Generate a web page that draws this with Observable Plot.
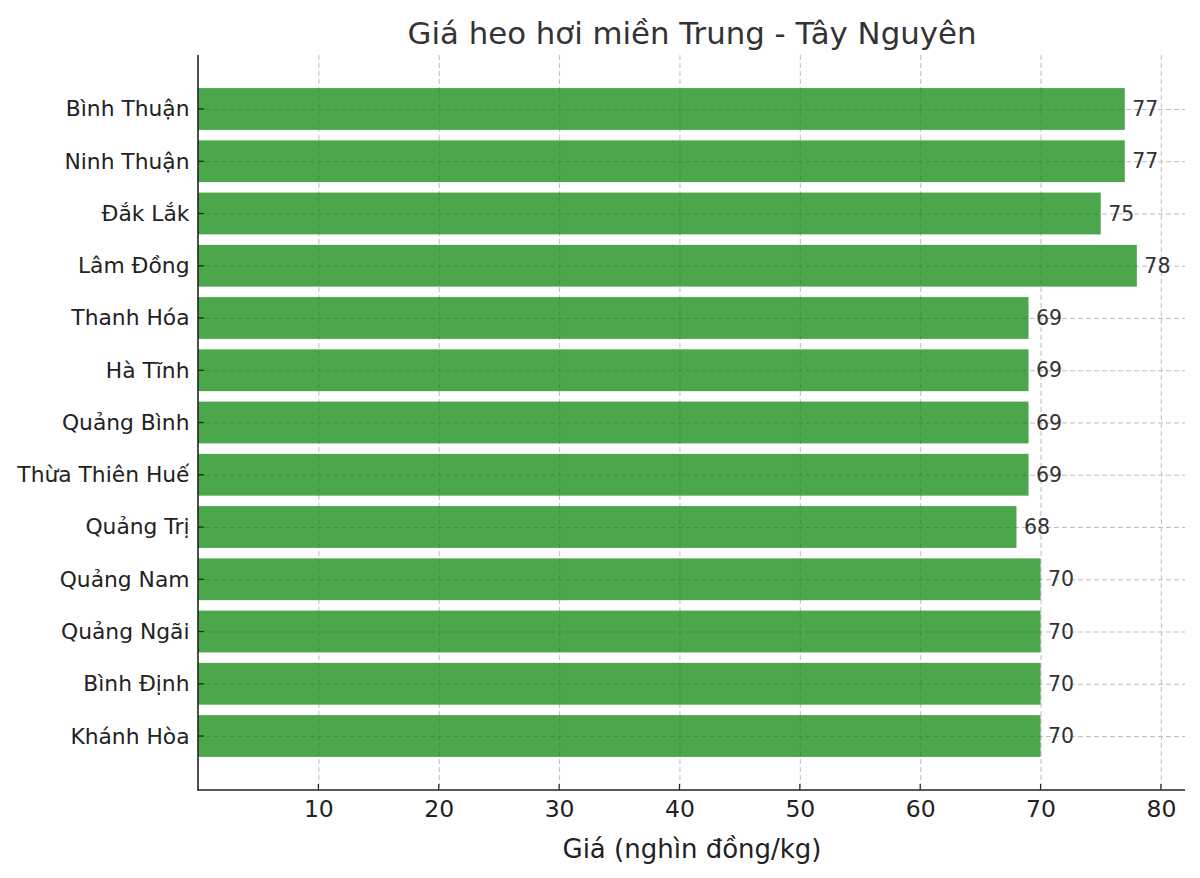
<!DOCTYPE html>
<html>
<head>
<meta charset="utf-8">
<script src="https://cdn.jsdelivr.net/npm/d3@7"></script>
<script src="https://cdn.jsdelivr.net/npm/@observablehq/plot@0.6"></script>
<style>
  html, body { margin: 0; padding: 0; background: #fff; }
  #chart svg { display: block; }
</style>
</head>
<body>
<div id="chart"></div>
<script>
const provinces = ["Bình Thuận", "Ninh Thuận", "Đắk Lắk", "Lâm Đồng", "Thanh Hóa", "Hà Tĩnh", "Quảng Bình", "Thừa Thiên Huế", "Quảng Trị", "Quảng Nam", "Quảng Ngãi", "Bình Định", "Khánh Hòa"];
const prices = [77, 77, 75, 78, 69, 69, 69, 69, 68, 70, 70, 70, 70];
const xTicks = [10, 20, 30, 40, 50, 60, 70, 80];
const titleText = "Giá heo hơi miền Trung - Tây Nguyên";
const xLabel = "Giá (nghìn đồng/kg)";

const data = provinces.map((p, i) => ({province: p, price: prices[i]}));

const font = "DejaVu Sans, sans-serif";

function spines(index, scales, values, dims) {
  const {marginLeft, marginRight, marginTop, marginBottom, width, height} = dims;
  const g = d3.create("svg:g");
  const bottom = height - marginBottom;
  const right = width - marginRight;
  for (const t of xTicks) {
    const x = scales.x(t);
    g.append("line").attr("x1", x).attr("x2", x).attr("y1", bottom).attr("y2", bottom - 6)
      .attr("stroke", "#222").attr("stroke-width", 1.2);
  }
  const bw = scales.y.bandwidth ? scales.y.bandwidth() / 2 : 0;
  for (const p of provinces) {
    const y = scales.y(p) + bw;
    g.append("line").attr("x1", marginLeft).attr("x2", marginLeft + 6).attr("y1", y).attr("y2", y)
      .attr("stroke", "#222").attr("stroke-width", 1.2);
  }
  g.append("line").attr("x1", marginLeft).attr("x2", marginLeft).attr("y1", marginTop).attr("y2", bottom)
    .attr("stroke", "#222").attr("stroke-width", 1.6);
  g.append("line").attr("x1", marginLeft - 0.8).attr("x2", right).attr("y1", bottom).attr("y2", bottom)
    .attr("stroke", "#222").attr("stroke-width", 1.6);
  return g.node();
}

const chart = Plot.plot({
  width: 1200,
  height: 878,
  marginLeft: 198,
  marginRight: 15,
  marginTop: 55,
  marginBottom: 88,
  style: {fontFamily: font, background: "#fff"},
  x: {domain: [0, 82]},
  y: {domain: provinces, padding: 0.2, paddingOuter: 0.633, round: false},
  marks: [
    Plot.ruleX(xTicks, {x: d => d, stroke: "#bdbdbd", strokeWidth: 1, strokeDasharray: "5,3"}),
    Plot.ruleY(provinces, {y: d => d, stroke: "#bdbdbd", strokeWidth: 1, strokeDasharray: "5,3"}),
    Plot.barX(data, {x: "price", y: "province", fill: "green", fillOpacity: 0.7}),
    Plot.text(data, {x: "price", y: "province", text: d => String(d.price), dx: 7, textAnchor: "start", fontSize: 20.5, fill: "#333"}),
    Plot.axisX(xTicks, {tickSize: 0, tickPadding: 10, fontSize: 23.5, label: null, color: "#222", tickFormat: d => String(d)}),
    Plot.axisY({tickSize: 0, tickPadding: 9, fontSize: 21.8, label: null, color: "#222"}),
    spines,
    Plot.text([titleText], {text: d => d, frameAnchor: "top", dy: -12, lineAnchor: "bottom", fontSize: 30.8, fill: "#333"}),
    Plot.text([xLabel], {text: d => d, frameAnchor: "bottom", dy: 67, lineAnchor: "bottom", fontSize: 26, fill: "#222"})
  ]
});
document.getElementById("chart").appendChild(chart);
</script>
</body>
</html>
